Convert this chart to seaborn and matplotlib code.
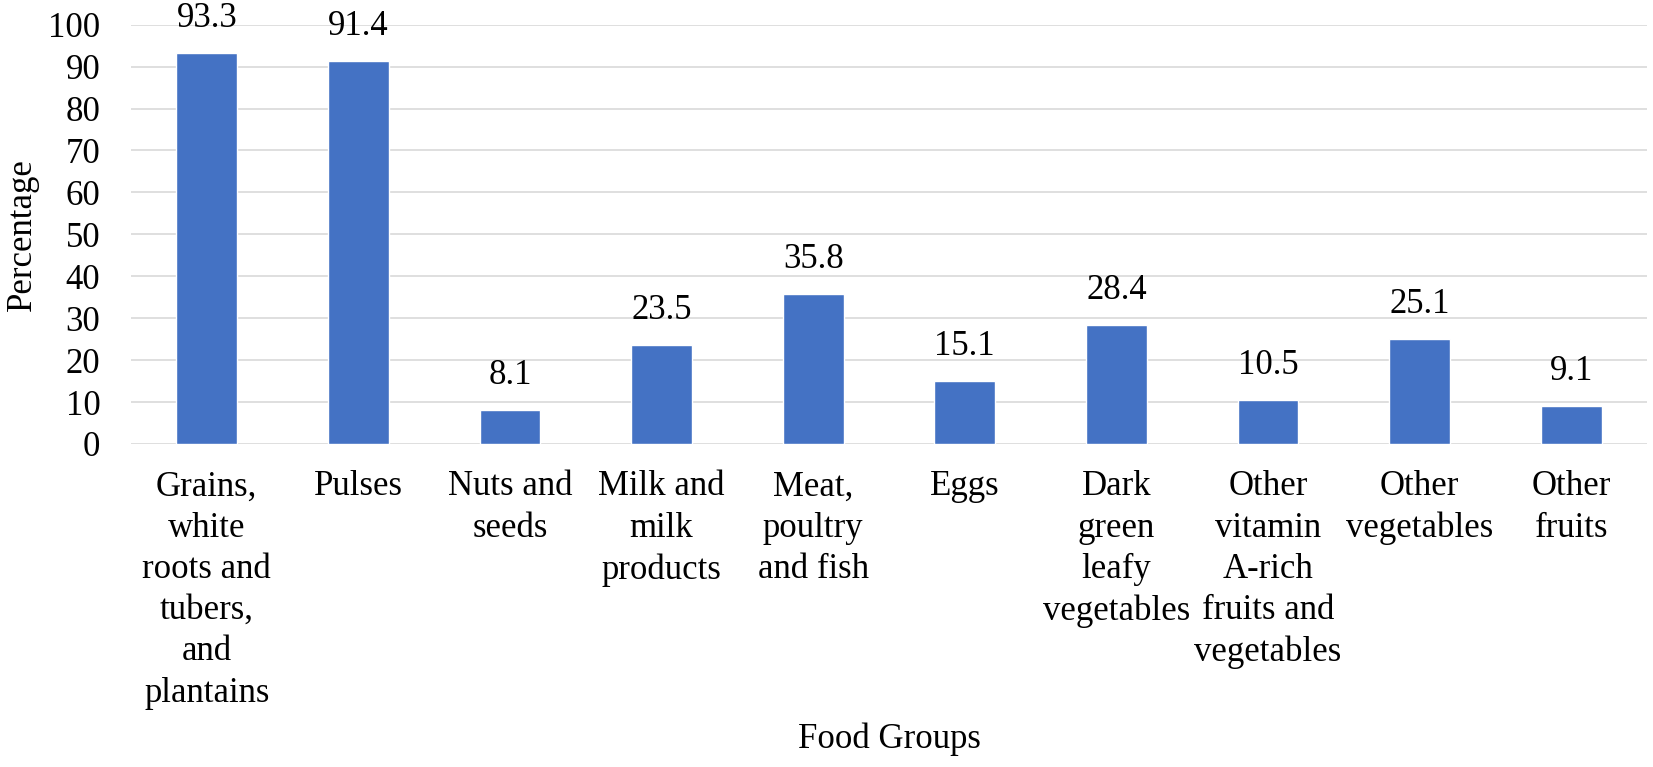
import matplotlib
matplotlib.use("Agg")
import matplotlib.pyplot as plt
import seaborn as sns
import pandas as pd

categories = [
    "Grains,\nwhite\nroots and\ntubers,\nand\nplantains",
    "Pulses",
    "Nuts and\nseeds",
    "Milk and\nmilk\nproducts",
    "Meat,\npoultry\nand fish",
    "Eggs",
    "Dark\ngreen\nleafy\nvegetables",
    "Other\nvitamin\nA-rich\nfruits and\nvegetables",
    "Other\nvegetables",
    "Other\nfruits",
]
values = [93.3, 91.4, 8.1, 23.5, 35.8, 15.1, 28.4, 10.5, 25.1, 9.1]
yticks = [0, 10, 20, 30, 40, 50, 60, 70, 80, 90, 100]

sns.set_theme(style="white")
plt.rcParams["font.family"] = ["Liberation Serif", "DejaVu Serif"]

df = pd.DataFrame({"cat": categories, "val": values})

fig = plt.figure(figsize=(16.53, 7.67), dpi=100)
ax = fig.add_axes([131 / 1653, 1 - 444 / 767, (1647 - 131) / 1653, (444 - 24.7) / 767])

sns.barplot(data=df, x="cat", y="val", color="#4472C4", saturation=1,
            width=0.4, ax=ax, zorder=3)

ax.set_ylim(0, 100)
ax.set_yticks(yticks)
ax.set_yticklabels([str(t) for t in yticks])
ax.yaxis.grid(True, color="#D9D9D9", linewidth=1.2, zorder=0)
ax.set_axisbelow(True)
for s in ax.spines.values():
    s.set_visible(False)

ax.tick_params(axis="y", labelsize=25, pad=22, length=0, colors="black")
ax.tick_params(axis="x", labelsize=25, pad=19, length=0, colors="black")
for lbl in ax.get_xticklabels():
    lbl.set_linespacing(1.33)

for c in ax.containers:
    ax.bar_label(c, labels=[f"{v:.1f}" for v in values], padding=13,
                 fontsize=25, color="black")

ax.set_xlabel("Food Groups", fontsize=25, color="black")
ax.set_ylabel("Percentage", fontsize=25, color="black")
ax.xaxis.set_label_coords(0.5, -0.665)
ax.yaxis.set_label_coords(-0.061, 0.5)

fig.savefig("out.png", dpi=100)
